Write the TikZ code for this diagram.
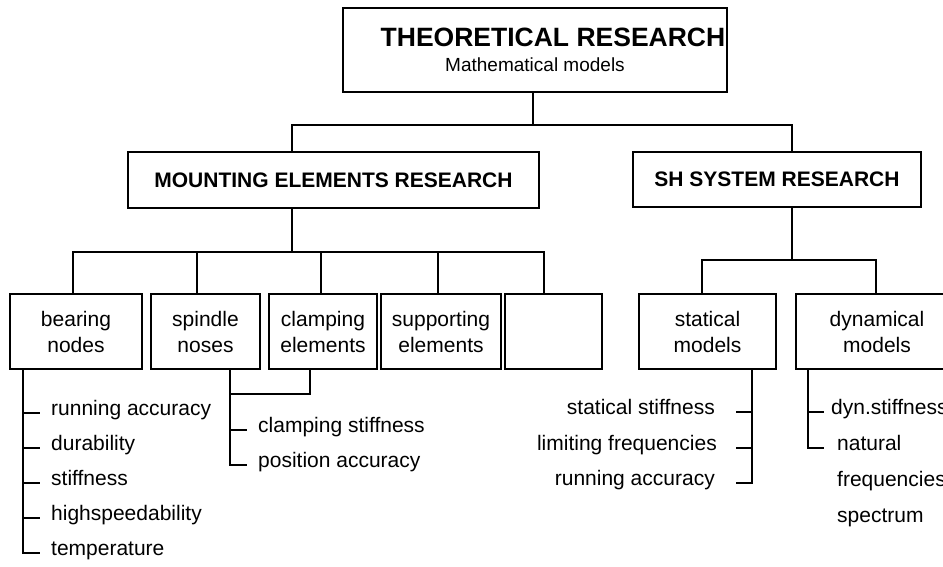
\documentclass[tikz,border=0pt]{standalone}
\usepackage{fontspec}
\setmainfont{Liberation Sans}

\tikzset{
  box/.style={draw,line width=1.8pt,align=center,inner sep=0pt,outer sep=0pt,
    font=\fontsize{21}{26}\selectfont},
  head/.style={font=\bfseries\fontsize{21}{26}\selectfont},
  leaf/.style={inner xsep=11pt,inner ysep=0pt,anchor=mid west,
    font=\fontsize{21}{25}\selectfont},
  wire/.style={line width=1.8pt}
}

\begin{document}
\begin{tikzpicture}[x=1pt,y=-1pt]
\useasboundingbox (0,0) rectangle (943,567);
\clip (0,0) rectangle (943,567);

% boxes
\node[box,minimum width=384pt,minimum height=84pt,font=\fontsize{19}{25}\selectfont] (theo) at (535,50)
  {\hspace*{36pt}{\bfseries\fontsize{26.5}{25}\selectfont THEORETICAL RESEARCH}\\Mathematical models};

\node[box,head,minimum width=411pt,minimum height=56pt] (mer) at (333.5,180) {MOUNTING ELEMENTS RESEARCH};
\node[box,head,minimum width=288pt,minimum height=55pt] (sh) at (777,179.5) {SH SYSTEM RESEARCH};

\node[box,minimum width=132pt,minimum height=75pt] (bear) at (76,331.5) {bearing\\nodes};
\node[box,minimum width=109pt,minimum height=75pt] (spin) at (205.5,331.5) {spindle\\noses};
\node[box,minimum width=108pt,minimum height=75pt] (clamp) at (323,331.5) {clamping\\elements};
\node[box,minimum width=120pt,minimum height=75pt] (supp) at (441,331.5) {supporting\\elements};
\node[box,minimum width=97pt,minimum height=75pt] (blank) at (553.5,331.5) {};
\node[box,minimum width=137pt,minimum height=75pt] (stat) at (707.5,331.5) {statical\\models};
\node[box,minimum width=162pt,minimum height=75pt] (dyn) at (877,331.5) {dynamical\\models};

% tree
\coordinate (bus1) at (533,125);
\coordinate (bus2) at (292,252);
\coordinate (bus3) at (792,260);
\draw[wire] (theo.south -| bus1) -- (bus1);
\draw[wire] (mer.north -| 292,0) |- (bus1) -| (sh.north -| 792,0);
\draw[wire] (mer.south -| 292,0) -- (bus2);
\draw[wire] (bear.north -| 73,0) |- (bus2) -| (blank.north -| 544,0);
\foreach \n/\x in {spin/197,clamp/321,supp/438}
  \draw[wire] (\n.north -| \x,0) -- (\x,252);
\draw[wire] (sh.south -| 792,0) -- (bus3);
\draw[wire] (stat.north -| 702,0) |- (bus3) -| (dyn.north -| 876,0);

% bearing nodes
\node[leaf] (b1) at (40,413) {running accuracy};
\node[leaf] (b2) at (40,448) {durability};
\node[leaf] (b3) at (40,483) {stiffness};
\node[leaf] (b4) at (40,518) {highspeedability};
\node[leaf] (b5) at (40,553) {temperature};
\draw[wire] (bear.south -| 23,0) |- (b5.mid west);
\foreach \l in {b1,b2,b3,b4}
  \draw[wire] (\l.mid west -| 23,0) -- (\l.mid west);

% spindle noses + clamping elements
\coordinate (join) at (230,394);
\node[leaf] (c1) at (247,430) {clamping stiffness};
\node[leaf] (c2) at (247,465) {position accuracy};
\draw[wire] (clamp.south -| 310,0) |- (join);
\draw[wire] (spin.south -| 230,0) |- (c2.mid west);
\draw[wire] (c1.mid west -| 230,0) -- (c1.mid west);

% statical models
\node[leaf,anchor=mid east,inner xsep=21pt] (s1) at (736,412) {statical stiffness};
\node[leaf,anchor=mid east,inner xsep=19pt] (s2) at (736,448) {limiting frequencies};
\node[leaf,anchor=mid east,inner xsep=21pt] (s3) at (736,483) {running accuracy};
\draw[wire] (stat.south -| 752,0) |- (s3.mid east);
\foreach \l in {s1,s2}
  \draw[wire] (\l.mid east -| 752,0) -- (\l.mid east);

% dynamical models
\node[leaf,inner xsep=7pt] (d1) at (824,412) {dyn.stiffness};
\node[leaf,inner xsep=13pt] (d2) at (824,448) {natural};
\node[leaf,inner xsep=13pt] (d3) at (824,484) {frequencies};
\node[leaf,inner xsep=13pt] (d4) at (824,520) {spectrum};
\draw[wire] (dyn.south -| 808,0) |- (d2.mid west);
\draw[wire] (d1.mid west -| 808,0) -- (d1.mid west);
\end{tikzpicture}
\end{document}
